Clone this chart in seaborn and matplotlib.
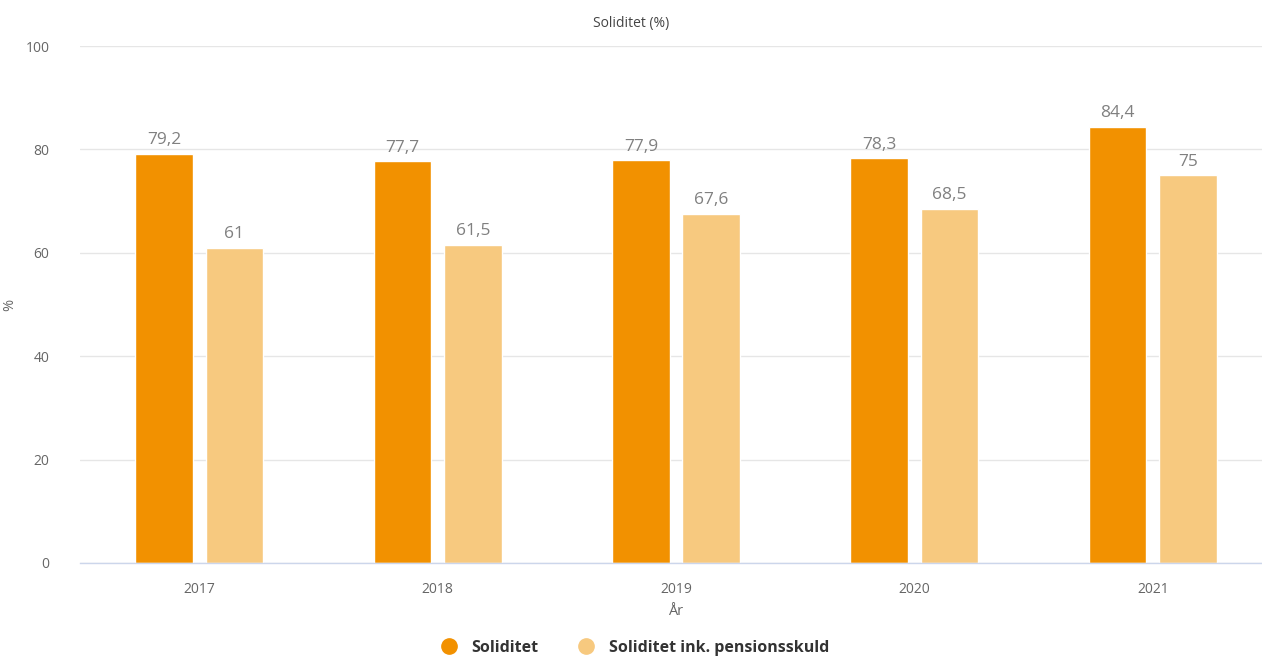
import pandas as pd
import matplotlib
matplotlib.use("Agg")
import matplotlib.pyplot as plt
import seaborn as sns
from matplotlib.lines import Line2D

# data
years = ["2017", "2018", "2019", "2020", "2021"]
soliditet = [79.2, 77.7, 77.9, 78.3, 84.4]
soliditet_pension = [61, 61.5, 67.6, 68.5, 75]
series_names = ["Soliditet", "Soliditet ink. pensionsskuld"]
colors = ["#F29100", "#F7C97F"]

df = pd.DataFrame({
    "År": years * 2,
    "value": soliditet + soliditet_pension,
    "serie": [series_names[0]] * len(years) + [series_names[1]] * len(years),
})

sns.set_theme(style="white")
plt.rcParams["font.family"] = ["Open Sans", "DejaVu Sans"]

fig = plt.figure(figsize=(12.62, 6.57), dpi=100)
ax = fig.add_axes([80 / 1262, 1 - 563 / 657, 1192 / 1262, 517 / 657])

sns.barplot(data=df, x="År", y="value", hue="serie", palette=colors,
            width=0.59, gap=0.18, ax=ax, legend=False, saturation=1)

ax.set_ylim(0, 100)
ax.set_xlim(-0.5, 4.5)
ax.set_yticks([0, 20, 40, 60, 80, 100])
ax.yaxis.grid(True, color="#e6e6e6", linewidth=1)
ax.set_axisbelow(True)
for s in ["top", "right", "left"]:
    ax.spines[s].set_visible(False)
ax.spines["bottom"].set_color("#ccd6eb")
ax.spines["bottom"].set_linewidth(1)
ax.tick_params(axis="both", length=0, labelsize=10, colors="#666666")
ax.tick_params(axis="x", pad=14)
ax.tick_params(axis="y", pad=22)

ax.set_xlabel("År", fontsize=10.5, color="#666666", labelpad=5)
ax.set_ylabel("%", fontsize=10.5, color="#666666")
ax.yaxis.set_label_coords(-0.053, 0.5)

# data labels
for cont in ax.containers:
    labels = [f"{v:g}".replace(".", ",") for v in cont.datavalues]
    ax.bar_label(cont, labels=labels, padding=4, fontsize=12.5, color="#808080")

fig.text(0.5, 1 - 23 / 657, "Soliditet (%)", ha="center", va="center",
         fontsize=10, color="#444444")

handles = [Line2D([0], [0], marker="o", linestyle="", markersize=11,
                  markerfacecolor=c, markeredgecolor=c) for c in colors]
leg = fig.legend(handles, series_names, loc="center", bbox_to_anchor=(0.5, 1 - 648 / 657),
                 ncol=2, frameon=False, handletextpad=0.4, columnspacing=2.0,
                 prop={"weight": "bold", "size": 11.5})
for t in leg.get_texts():
    t.set_color("#333333")

fig.savefig("out.png", dpi=100)
